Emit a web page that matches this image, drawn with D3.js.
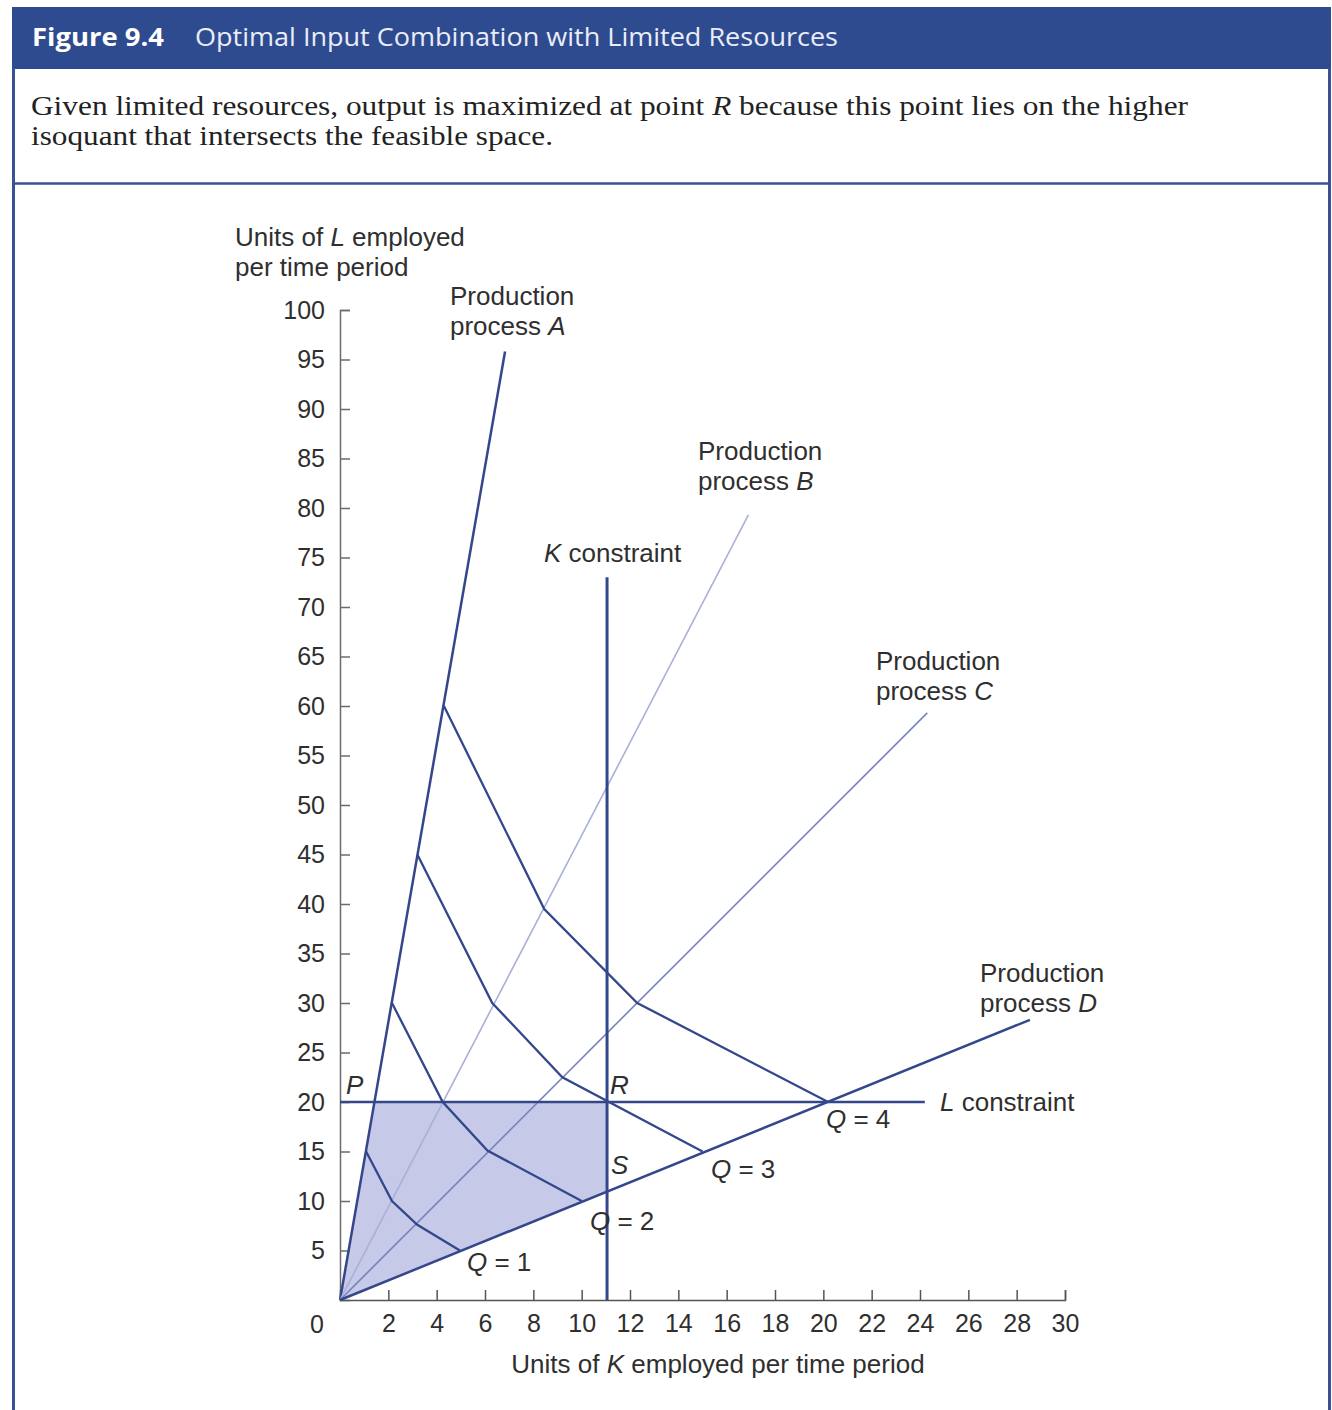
<!DOCTYPE html>
<html>
<head>
<meta charset="utf-8">
<script src="https://cdn.jsdelivr.net/npm/d3@7/dist/d3.min.js"></script>
<style>
  html, body { margin: 0; padding: 0; background: #ffffff; }
  svg { display: block; }
</style>
</head>
<body>
<svg id="chart" width="1332" height="1410"></svg>
<script>
// ---------------- data ----------------
const processNames = ["A", "B", "C", "D"];
// end points of the production-process rays (K, L)
const processEndK = [6.83, 16.9, 24.3, 28.55];
const processEndL = [95.8, 79.3, 59.3, 28.3];
// isoquant vertices, one per process A,B,C,D (K values / L values)
const isoQ = [1, 2, 3, 4];
const isoK = [
  [1.08, 2.15, 3.2, 4.96],
  [2.15, 4.25, 6.1, 10.0],
  [3.2, 6.3, 9.2, 15.0],
  [4.3, 8.45, 12.3, 20.2]
];
const isoL = [
  [15, 10, 7.6, 5],
  [30, 20, 15.1, 10],
  [45, 30, 22.5, 15],
  [60, 39.5, 30, 20]
];
const kConstraint = 11.05;
const kConstraintTop = 73;
const lConstraint = 20;
const lConstraintEnd = 24.2;
const xTicks = [2, 4, 6, 8, 10, 12, 14, 16, 18, 20, 22, 24, 26, 28, 30];
const yTicks = [5, 10, 15, 20, 25, 30, 35, 40, 45, 50, 55, 60, 65, 70, 75, 80, 85, 90, 95, 100];

// ---------------- drawing ----------------
const svg = d3.select("#chart");
const navy = "#34478b";
const textCol = "#2f2f2f";
const sans = "'Liberation Sans', Arial, sans-serif";
const fs = 26;

// header band
svg.append("rect").attr("x", 12).attr("y", 7).attr("width", 1319).attr("height", 62).attr("fill", "#2f4b8f");
svg.append("text").attr("x", 32).attr("y", 46)
  .attr("font-family", "'Open Sans', 'Noto Sans', sans-serif").attr("font-weight", "700")
  .attr("font-size", 25).attr("fill", "#ffffff").attr("textLength", 132).attr("lengthAdjust", "spacingAndGlyphs")
  .text("Figure 9.4");
svg.append("text").attr("x", 195).attr("y", 46)
  .attr("font-family", "'Open Sans', 'Noto Sans', sans-serif")
  .attr("font-size", 25).attr("fill", "#e9edf7").attr("textLength", 643).attr("lengthAdjust", "spacingAndGlyphs")
  .text("Optimal Input Combination with Limited Resources");

// box borders
svg.append("line").attr("x1", 13.5).attr("x2", 13.5).attr("y1", 68).attr("y2", 1410).attr("stroke", "#3a5294").attr("stroke-width", 3);
svg.append("line").attr("x1", 1329.5).attr("x2", 1329.5).attr("y1", 68).attr("y2", 1410).attr("stroke", "#3a5294").attr("stroke-width", 3);
svg.append("line").attr("x1", 13).attr("x2", 1330).attr("y1", 183.5).attr("y2", 183.5).attr("stroke", "#3a5294").attr("stroke-width", 2.5);

// caption
const cap1 = svg.append("text").attr("x", 31).attr("y", 115)
  .attr("font-family", "'Liberation Serif', 'DejaVu Serif', serif").attr("font-size", 27).attr("fill", "#222")
  .attr("textLength", 1157).attr("lengthAdjust", "spacingAndGlyphs");
cap1.append("tspan").text("Given limited resources, output is maximized at point ");
cap1.append("tspan").attr("font-style", "italic").text("R");
cap1.append("tspan").text(" because this point lies on the higher");
svg.append("text").attr("x", 31).attr("y", 145)
  .attr("font-family", "'Liberation Serif', 'DejaVu Serif', serif").attr("font-size", 27).attr("fill", "#222")
  .attr("textLength", 522).attr("lengthAdjust", "spacingAndGlyphs")
  .text("isoquant that intersects the feasible space.");

// scales
const x = d3.scaleLinear().domain([0, 30]).range([340, 1065]);
const y = d3.scaleLinear().domain([0, 100]).range([1300, 310]);
const line = d3.line().x(d => x(d[0])).y(d => y(d[1]));

// feasible region
const slopeA = processEndL[0] / processEndK[0];
const slopeD = processEndL[3] / processEndK[3];
const feasible = [[0, 0], [lConstraint / slopeA, lConstraint], [kConstraint, lConstraint], [kConstraint, kConstraint * slopeD], [0, 0]];
svg.append("path").attr("d", line(feasible)).attr("fill", "#c6c9e8").attr("stroke", "none");

// axes
const yAxis = d3.axisLeft(y).tickValues(yTicks).tickSizeInner(-10).tickSizeOuter(-10).tickPadding(15).tickFormat(d3.format("d"));
const gy = svg.append("g").attr("transform", `translate(${x(0)},0)`).call(yAxis);
gy.selectAll("path, line").attr("stroke", "#6b6b6b").attr("stroke-width", 1.5);
gy.selectAll("text").attr("font-family", sans).attr("font-size", 25).attr("fill", textCol);

const xAxis = d3.axisBottom(x).tickValues(xTicks).tickSizeInner(-10).tickSizeOuter(-10).tickPadding(14).tickFormat(d3.format("d"));
const gx = svg.append("g").attr("transform", `translate(0,${y(0)})`).call(xAxis);
gx.selectAll("path, line").attr("stroke", "#555").attr("stroke-width", 1.5);
gx.selectAll("text").attr("font-family", sans).attr("font-size", 25).attr("fill", textCol);

svg.append("text").attr("x", x(0) - 16).attr("y", y(0) + 33).attr("text-anchor", "end")
  .attr("font-family", sans).attr("font-size", 25).attr("fill", textCol).text("0");

// axis titles
const xt = svg.append("text").attr("x", 718).attr("y", 1373).attr("text-anchor", "middle")
  .attr("font-family", sans).attr("font-size", fs).attr("fill", textCol);
xt.append("tspan").text("Units of ");
xt.append("tspan").attr("font-style", "italic").text("K");
xt.append("tspan").text(" employed per time period");

const yt = svg.append("text").attr("font-family", sans).attr("font-size", fs).attr("fill", textCol);
yt.append("tspan").attr("x", 235).attr("y", 246).text("Units of ");
yt.append("tspan").attr("font-style", "italic").text("L");
yt.append("tspan").text(" employed");
yt.append("tspan").attr("x", 235).attr("y", 276).text("per time period");

// process rays
const rayStyle = [
  { stroke: navy, w: 2.5 },
  { stroke: "#a9b0d8", w: 1.6 },
  { stroke: "#7883bc", w: 1.6 },
  { stroke: navy, w: 2.5 }
];
processNames.forEach((n, i) => {
  svg.append("path").attr("d", line([[0, 0], [processEndK[i], processEndL[i]]]))
    .attr("fill", "none").attr("stroke", rayStyle[i].stroke).attr("stroke-width", rayStyle[i].w);
});

// isoquants
isoQ.forEach((q, j) => {
  const pts = isoK[j].map((k, i) => [k, isoL[j][i]]);
  svg.append("path").attr("d", line(pts)).attr("fill", "none")
    .attr("stroke", navy).attr("stroke-width", 2.3).attr("stroke-linejoin", "miter");
});

// constraints
svg.append("path").attr("d", line([[0, lConstraint], [lConstraintEnd, lConstraint]]))
  .attr("fill", "none").attr("stroke", navy).attr("stroke-width", 2.3);
svg.append("path").attr("d", line([[kConstraint, 0], [kConstraint, kConstraintTop]]))
  .attr("fill", "none").attr("stroke", navy).attr("stroke-width", 3);

// labels
function label(px, py, parts) {
  const t = svg.append("text").attr("x", px).attr("y", py)
    .attr("font-family", sans).attr("font-size", fs).attr("fill", textCol);
  parts.forEach(p => {
    const s = t.append("tspan").text(p[0]);
    if (p[1]) s.attr("font-style", "italic");
  });
  return t;
}
function twoLine(px, py, letter) {
  label(px, py, [["Production"]]);
  label(px, py + 30, [["process "], [letter, true]]);
}
twoLine(450, 305, "A");
twoLine(698, 460, "B");
twoLine(876, 670, "C");
twoLine(980, 982, "D");
label(544, 562, [["K", true], [" constraint"]]);
label(940, 1111, [["L", true], [" constraint"]]);
label(346, 1094, [["P", true]]);
label(610, 1094, [["R", true]]);
label(611, 1174, [["S", true]]);
label(467, 1271, [["Q", true], [" = 1"]]);
label(590, 1230, [["Q", true], [" = 2"]]);
label(711, 1178, [["Q", true], [" = 3"]]);
label(826, 1128, [["Q", true], [" = 4"]]);
</script>
</body>
</html>
